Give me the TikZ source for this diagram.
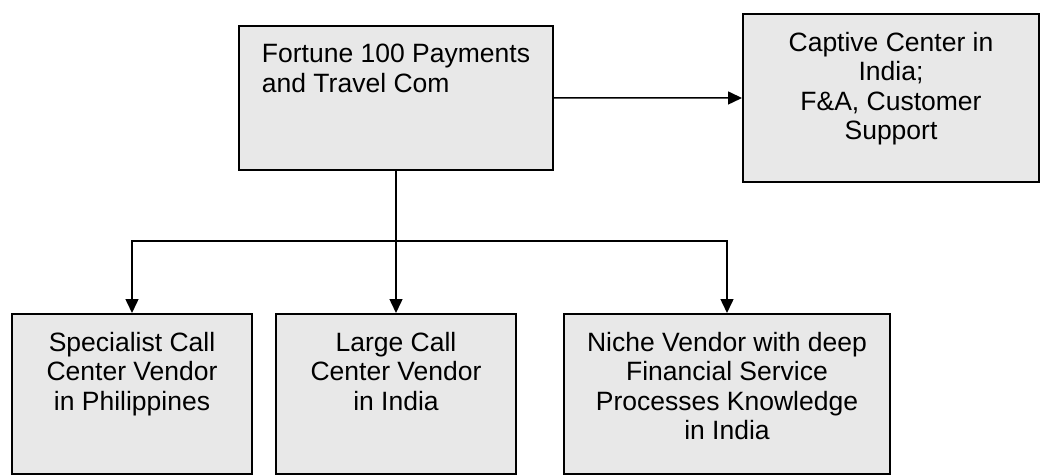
\documentclass[tikz,border=0pt]{standalone}
\usepackage{fontspec}
\setmainfont{Liberation Sans}
\usetikzlibrary{arrows.meta}
\definecolor{boxgray}{HTML}{E8E8E8}

\begin{document}
\begin{tikzpicture}[auto, x=1pt, y=-1pt, >={Triangle[length=14pt,width=13pt]},
block/.style = {rectangle, draw=black, line width=2pt, fill=boxgray, anchor=north,
  font=\fontsize{26.5}{29.5}\selectfont,
  inner xsep=0pt, inner ysep=18pt, align=center}]
\useasboundingbox (0,0) rectangle (1041,476);
\node[block, align=left, minimum width=314pt, text depth=59.5pt] at (396,25) (fortune) {Fortune 100 Payments\\and Travel Com};
\node[block, minimum width=296pt, text depth=24.5pt] at (891,13) (captive) {Captive Center in\\India;\\F\&A, Customer\\Support};
\node[block, minimum width=240pt, text depth=46pt] at (132,313) (special) {Specialist Call\\Center Vendor\\in Philippines};
\node[block, minimum width=240pt, text depth=46pt] at (396,313) (large) {Large Call\\Center Vendor\\in India};
\node[block, minimum width=326pt, text depth=16.5pt] at (727,313) (niche) {Niche Vendor with deep\\Financial Service\\Processes Knowledge\\in India};
\coordinate (split) at (396,241);
\draw [->] (fortune) [line width=1.5pt] -- (captive);
\draw [->] (fortune) [line width=1.5pt] -- (large);
\draw [->] (split) [line width=1.5pt] -| (special);
\draw [->] (split) [line width=1.5pt] -| (niche);
\end{tikzpicture}
\end{document}
